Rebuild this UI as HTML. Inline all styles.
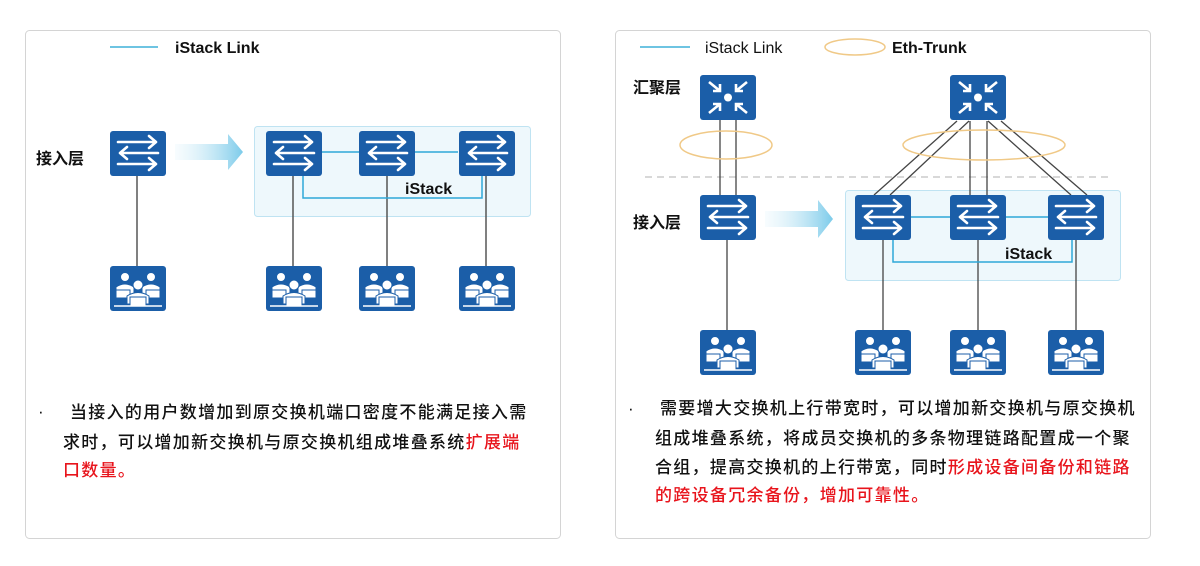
<!DOCTYPE html>
<html><head><meta charset="utf-8"><style>
body{margin:0;background:#fff;}
svg text{font-family:"Liberation Sans","Noto Sans CJK SC",sans-serif;}
.t{font-size:17px;letter-spacing:1.3px;fill:#111;font-weight:500;}
.r{fill:#e8141c;}
</style></head><body>
<svg width="1200" height="561" viewBox="0 0 1200 561" xmlns="http://www.w3.org/2000/svg">
<defs>
<linearGradient id="ag" x1="0" x2="1"><stop offset="0" stop-color="#e6f5fb" stop-opacity="0.3"/><stop offset="1" stop-color="#7ccbea"/></linearGradient>
<g id="sw">
<rect x="0" y="0" width="56" height="45" rx="3" fill="#1b5ea8"/>
<g stroke="#fff" stroke-width="2.6" fill="none" stroke-linecap="round" stroke-linejoin="round">
<path d="M8 11H46M39 5L46 11L39 17"/>
<path d="M48 22H10M17 16L10 22L17 28"/>
<path d="M8 33H46M39 27L46 33L39 39"/>
</g></g>
<g id="ag1">
<rect x="0" y="0" width="56" height="45" rx="3" fill="#1b5ea8"/>
<circle cx="28" cy="22.5" r="4" fill="#fff"/>
<g stroke="#fff" stroke-width="2.6" fill="none">
<path d="M9 7L20 16M20 9V16H13"/>
<path d="M47 7L36 16M36 9V16H43"/>
<path d="M9 38L20 29M20 36V29H13"/>
<path d="M47 38L36 29M36 36V29H43"/>
</g></g>
<g id="us">
<rect x="0" y="0" width="56" height="45" rx="3" fill="#1b5ea8"/>
<g fill="#fff" stroke="#1b5ea8" stroke-width="1">
<circle cx="15" cy="11" r="4.5"/><circle cx="41" cy="11" r="4.5"/>
<path d="M6 28V21Q15 15 24 21V28Z"/><path d="M32 28V21Q41 15 50 21V28Z"/>
<rect x="6" y="24" width="14" height="8"/><rect x="36" y="24" width="14" height="8"/>
<circle cx="28" cy="19" r="5"/>
<path d="M17 38V30Q28 23 39 30V38Z"/>
<rect x="20" y="31" width="16" height="9"/>
</g>
<line x1="4" y1="40" x2="52" y2="40" stroke="#fff" stroke-width="1.5"/>
</g>
</defs>

<rect x="25.5" y="30.5" width="535" height="508" rx="4" fill="#fff" stroke="#d4d4d4"/>
<rect x="615.5" y="30.5" width="535" height="508" rx="4" fill="#fff" stroke="#d4d4d4"/>

<!-- Left panel -->
<line x1="110" y1="47" x2="158" y2="47" stroke="#3fb1d8" stroke-width="1.5"/>
<text x="175" y="53" font-size="16" font-weight="bold" fill="#111">iStack Link</text>
<text x="36" y="164" font-size="16" font-weight="bold" fill="#111">接入层</text>
<path d="M175 144H228V134L243 152L228 170V160H175Z" fill="url(#ag)"/>
<rect x="254.5" y="126.5" width="276" height="90" rx="3" fill="#eef8fc" stroke="#bfe3f2"/>
<g stroke="#555" stroke-width="1.5">
<line x1="137" y1="176" x2="137" y2="266"/>
<line x1="293" y1="176" x2="293" y2="266"/>
<line x1="387" y1="176" x2="387" y2="266"/>
<line x1="486" y1="176" x2="486" y2="266"/>
</g>
<g stroke="#2ea8d8" stroke-width="1.5" fill="none">
<line x1="322" y1="152" x2="359" y2="152"/><line x1="415" y1="152" x2="458" y2="152"/>
<path d="M303 176V198H482V176"/>
</g>
<use href="#sw" x="110" y="131"/><use href="#sw" x="266" y="131"/><use href="#sw" x="359" y="131"/><use href="#sw" x="459" y="131"/>
<text x="405" y="194" font-size="16" font-weight="bold" fill="#111">iStack</text>
<use href="#us" x="110" y="266"/><use href="#us" x="266" y="266"/><use href="#us" x="359" y="266"/><use href="#us" x="459" y="266"/>

<text x="38" y="417" class="t">·</text>
<text x="70" y="418" class="t">当接入的用户数增加到原交换机端口密度不能满足接入需</text>
<text x="63" y="448" class="t">求时，可以增加新交换机与原交换机组成堆叠系统<tspan class="r">扩展端</tspan></text>
<text x="63" y="476" class="t r">口数量。</text>

<!-- Right panel -->
<line x1="640" y1="47" x2="690" y2="47" stroke="#3fb1d8" stroke-width="1.5"/>
<text x="705" y="53" font-size="16" fill="#111">iStack  Link</text>
<ellipse cx="855" cy="47" rx="30" ry="8" fill="none" stroke="#f0c987" stroke-width="1.5"/>
<text x="892" y="53" font-size="16" font-weight="bold" fill="#111">Eth-Trunk</text>
<text x="633" y="93" font-size="16" font-weight="bold" fill="#111">汇聚层</text>
<text x="633" y="228" font-size="16" font-weight="bold" fill="#111">接入层</text>
<line x1="645" y1="177" x2="1110" y2="177" stroke="#ccc" stroke-width="1.5" stroke-dasharray="7,5"/>
<path d="M765 211H818V200L833 219L818 238V227H765Z" fill="url(#ag)"/>
<rect x="845.5" y="190.5" width="275" height="90" rx="3" fill="#eef8fc" stroke="#bfe3f2"/>
<g stroke="#444" stroke-width="1.3">
<line x1="720" y1="120" x2="720" y2="195"/><line x1="736" y1="120" x2="736" y2="195"/>
<line x1="957" y1="121" x2="874" y2="195"/><line x1="969" y1="121" x2="890" y2="195"/>
<line x1="970" y1="121" x2="970" y2="195"/><line x1="987" y1="121" x2="987" y2="195"/>
<line x1="988" y1="121" x2="1071" y2="195"/><line x1="1001" y1="121" x2="1087" y2="195"/>
<line x1="727" y1="240" x2="727" y2="330"/>
<line x1="883" y1="240" x2="883" y2="330"/>
<line x1="978" y1="240" x2="978" y2="330"/>
<line x1="1076" y1="240" x2="1076" y2="330"/>
</g>
<ellipse cx="726" cy="145" rx="46" ry="14" fill="none" stroke="#f0c987" stroke-width="1.5"/>
<ellipse cx="984" cy="145" rx="81" ry="15" fill="none" stroke="#f0c987" stroke-width="1.5"/>
<g stroke="#2ea8d8" stroke-width="1.5" fill="none">
<line x1="911" y1="217" x2="950" y2="217"/><line x1="1006" y1="217" x2="1048" y2="217"/>
<path d="M893 240V262H1072V240"/>
</g>
<use href="#ag1" x="700" y="75"/><use href="#ag1" x="950" y="75"/>
<use href="#sw" x="700" y="195"/><use href="#sw" x="855" y="195"/><use href="#sw" x="950" y="195"/><use href="#sw" x="1048" y="195"/>
<text x="1005" y="259" font-size="16" font-weight="bold" fill="#111">iStack</text>
<use href="#us" x="700" y="330"/><use href="#us" x="855" y="330"/><use href="#us" x="950" y="330"/><use href="#us" x="1048" y="330"/>

<text x="628" y="414" class="t">·</text>
<text x="660" y="414" class="t">需要增大交换机上行带宽时，可以增加新交换机与原交换机</text>
<text x="655" y="444" class="t">组成堆叠系统，将成员交换机的多条物理链路配置成一个聚</text>
<text x="655" y="473" class="t">合组，提高交换机的上行带宽，同时<tspan class="r">形成设备间备份和链路</tspan></text>
<text x="655" y="501" class="t r">的跨设备冗余备份，增加可靠性。</text>
</svg>
</body></html>
